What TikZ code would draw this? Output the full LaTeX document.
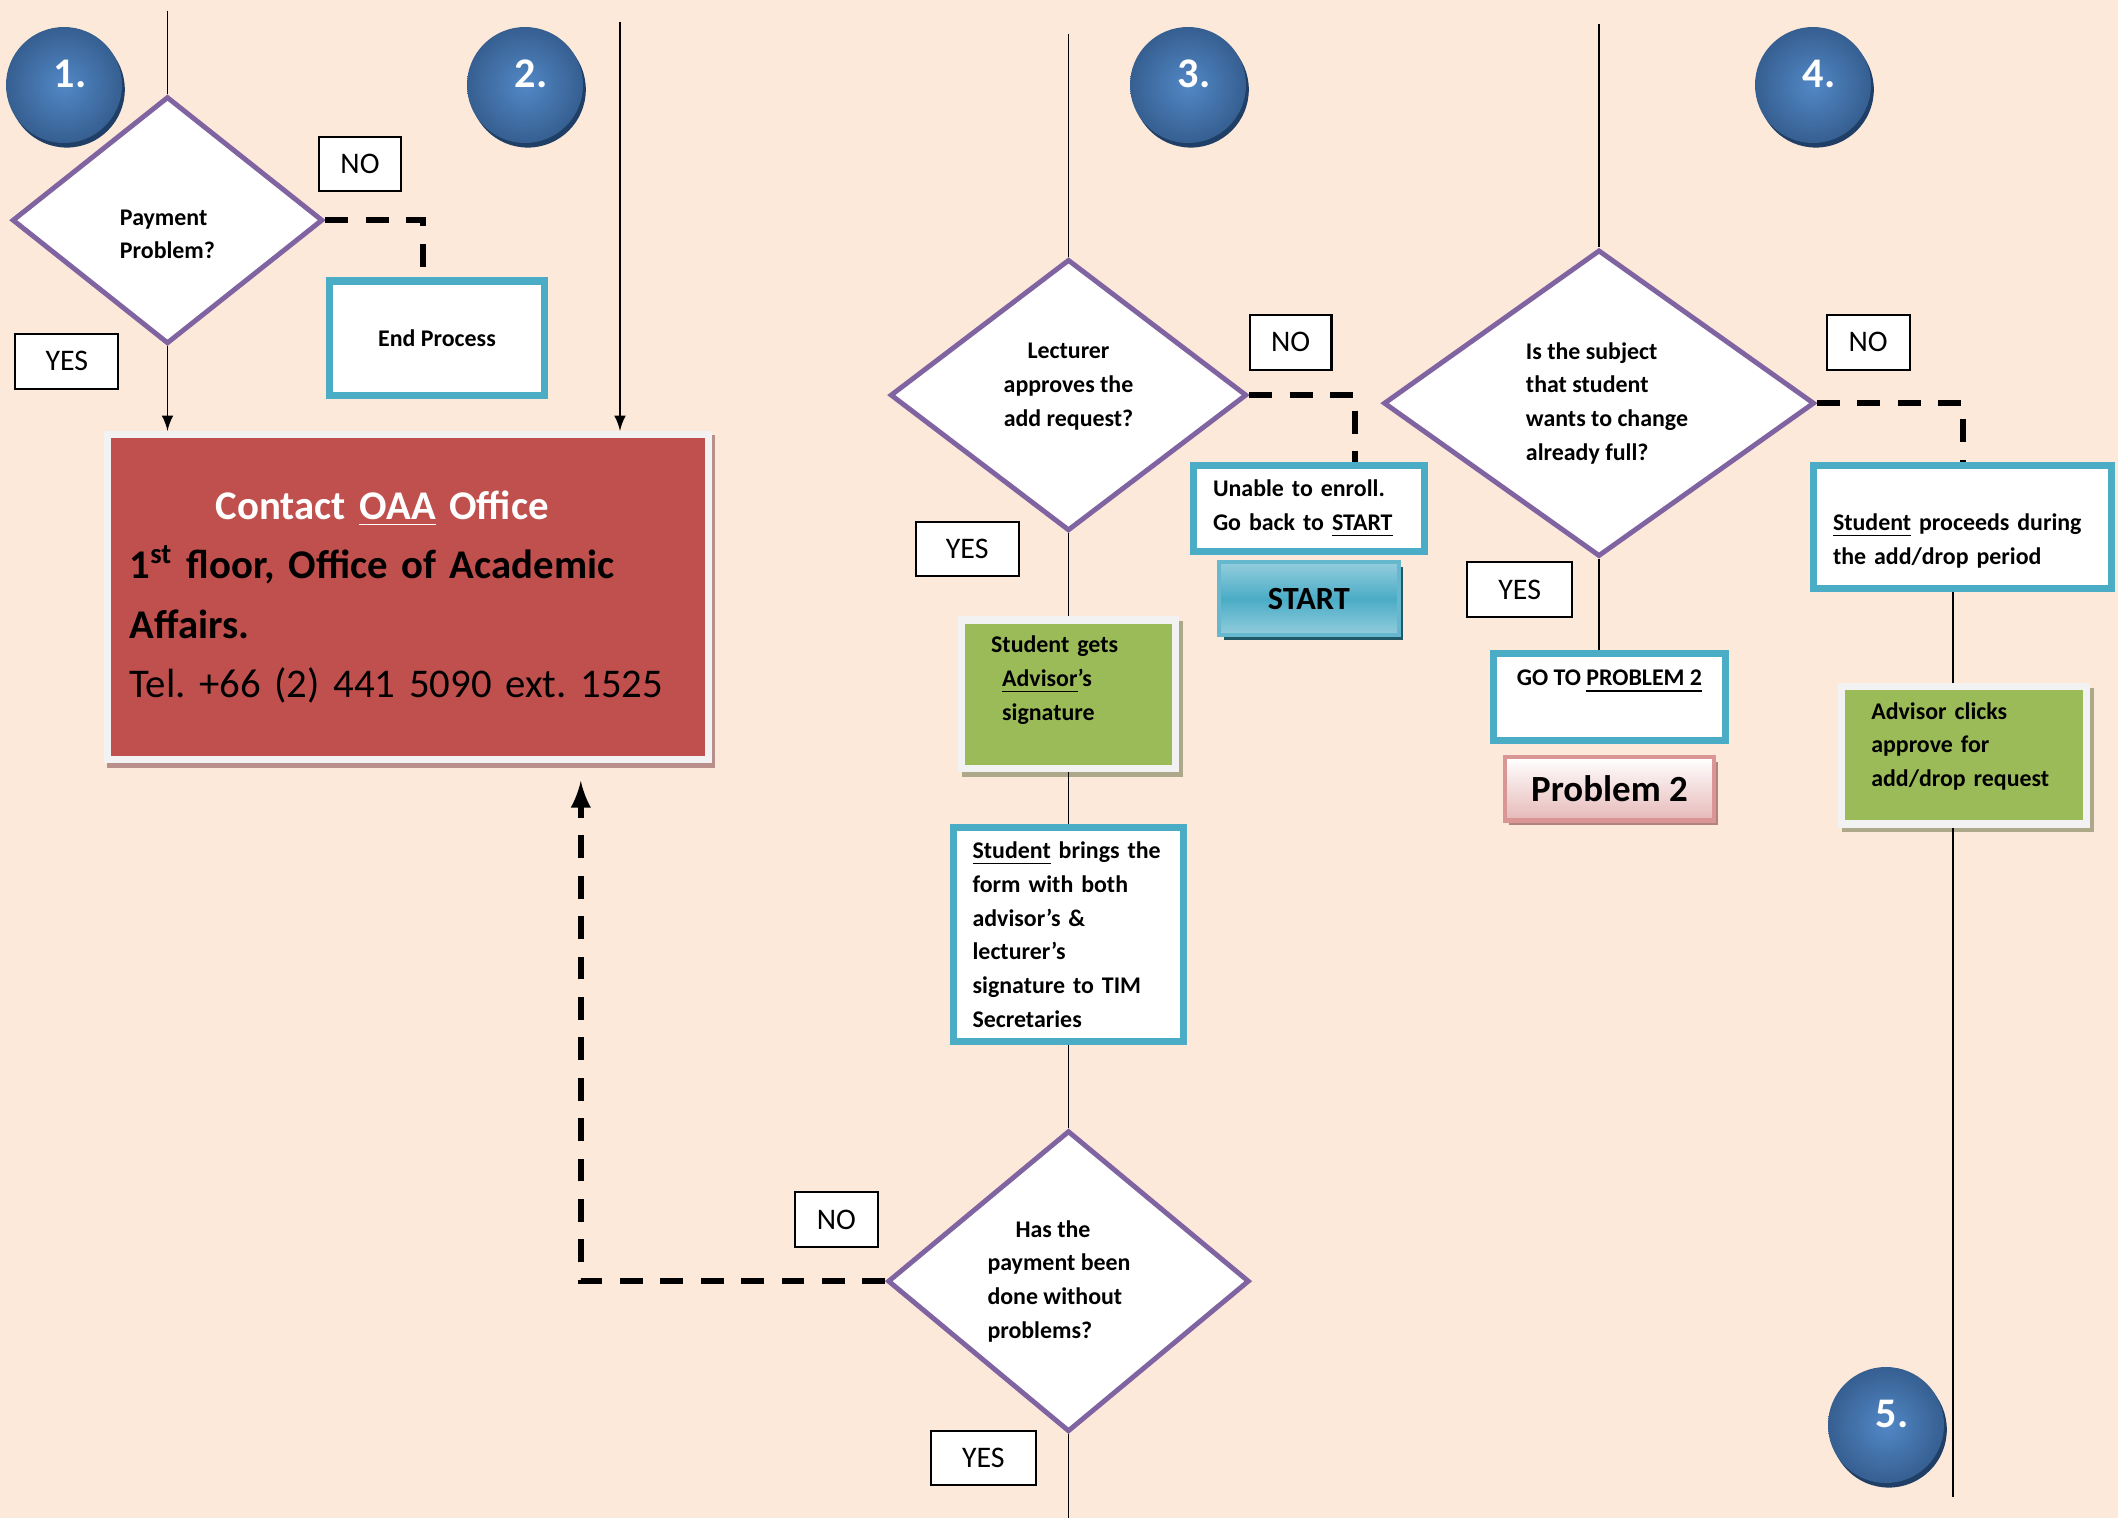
\documentclass[tikz,border=0pt]{standalone}
\usepackage{fontspec}
\setmainfont{Carlito}
\frenchspacing
\usetikzlibrary{shapes.geometric, arrows, positioning, shadows}
\definecolor{mpeach}{HTML}{FCE9DA}
\definecolor{mpurp}{HTML}{8064A2}
\definecolor{mcyan}{HTML}{4BACC6}
\definecolor{mred}{HTML}{C0504D}
\definecolor{mgreen}{HTML}{9BBB59}
\definecolor{mrim}{HTML}{F2F2F2}
\definecolor{mtan}{HTML}{AEA88A}
\definecolor{mrose}{HTML}{B98F8C}
\definecolor{mballin}{HTML}{5288C6}
\definecolor{mballout}{HTML}{365F91}
\definecolor{mballsh}{HTML}{203F66}
\definecolor{mstart}{HTML}{93CDDD}
\definecolor{mstartsh}{HTML}{215968}
\definecolor{mpink}{HTML}{E6B9B8}
\definecolor{mpinkline}{HTML}{D99694}
\definecolor{mpinksh}{HTML}{B3837E}
\newcommand{\boxtext}{\fontsize{6.8pt}{9.6pt}\selectfont\bfseries}
\newcommand{\ballnum}[1]{\hspace*{0.12cm}\raisebox{0.22cm}{#1}}
\tikzstyle{decision} = [diamond, draw=mpurp, line width=1.4pt, fill=white, inner sep=0pt, font=\boxtext]
\tikzstyle{process} = [rectangle, draw=mcyan, line width=2pt, fill=white, font=\boxtext]
\tikzstyle{task} = [rectangle, draw=mrim, line width=2pt, fill=mgreen, font=\boxtext, align=left, general shadow={fill=mtan, draw=mtan, line width=2pt, shadow xshift=1.2pt, shadow yshift=-1.4pt}]
\tikzstyle{contact} = [rectangle, draw=mrim, line width=2pt, fill=mred, align=left, font=\fontsize{11.6pt}{16.9pt}\selectfont\bfseries, general shadow={fill=mrose, draw=mrose, line width=2pt, shadow xshift=0.8pt, shadow yshift=-1.2pt}]
\tikzstyle{answer} = [rectangle, draw=black, line width=0.6pt, fill=white, minimum height=0.545cm, font=\fontsize{8.5pt}{10pt}\selectfont]
\tikzstyle{ball} = [circle, minimum size=1.16cm, inner color=mballin, outer color=mballout, text=white, font=\fontsize{12pt}{14pt}\selectfont\bfseries, general shadow={fill=mballsh, shadow xshift=0.8pt, shadow yshift=-1.3pt}]
\tikzstyle{button} = [rectangle, draw=mcyan!85!white, line width=1.2pt, top color=mstart, bottom color=mstart, middle color=mcyan, minimum width=1.797cm, minimum height=0.729cm, font=\fontsize{9.2pt}{11pt}\selectfont\bfseries, general shadow={fill=mstartsh, shadow xshift=1.3pt, shadow yshift=-1.3pt}]
\tikzstyle{gopage} = [rectangle, draw=mpinkline, line width=1.2pt, top color=white, bottom color=mpink, minimum width=2.088cm, minimum height=0.632cm, font=\fontsize{10.5pt}{12pt}\selectfont\bfseries, general shadow={fill=mpinksh, shadow xshift=1.2pt, shadow yshift=-1.2pt}]
\tikzstyle{link} = [line width=0.5pt]
\tikzstyle{noline} = [line width=1.6pt, dash pattern=on 6.5pt off 5pt]

\begin{document}
\begin{tikzpicture}
  \fill[mpeach] (0,0) rectangle (21.18,-15.18);
  \useasboundingbox (0,0) rectangle (21.18,-15.18);

  % step numbers
  \node (n1) [ball] at (0.64,-0.85) {\ballnum{1.}};
  \node (n2) [ball] at (5.25,-0.85) {\ballnum{2.}};
  \node (n3) [ball] at (11.88,-0.85) {\ballnum{3.}};
  \node (n4) [ball] at (18.13,-0.85) {\ballnum{4.}};
  \node (n5) [ball] at (18.86,-14.25) {\ballnum{5.}};

  % 1. and 2.
  \coordinate (top1) at (1.675,-0.108);
  \coordinate (top2) at (6.200,-0.216);
  \node (pay) [decision, minimum width=3.107cm, minimum height=2.472cm, align=left] at (1.675,-2.202) {\rule{0pt}{0.44cm}Payment\\Problem?};
  \node (payno) [answer, minimum width=0.815cm] at (3.600,-1.641) {NO};
  \node (payyes) [answer, minimum width=1.03cm] at (0.669,-3.613) {YES};
  \node (endp) [process, minimum width=2.148cm, minimum height=1.148cm] at (4.370,-3.384) {End Process};
  \node (oaa) [contact, minimum width=6.011cm, minimum height=3.255cm, text width=5.565cm] at (4.079,-5.971)
    {{\color{white}\hspace*{0.86cm}Contact \underline{OAA} Office}\\
     1\textsuperscript{st} floor, Office of Academic\\
     Affairs.\\
     \mbox{\mdseries Tel. +66 (2) 441 5090 ext. 1525}};
  \draw [link] (top1) -- (pay);
  \draw [link, ->, >=latex] (pay) -- (pay.south |- oaa.north);
  \draw [noline] (pay.east) -| ([xshift=-0.14cm]endp.north);
  \draw [link, ->, >=latex] (top2) -- (top2 |- oaa.north);

  % 3.
  \coordinate (top3) at (10.685,-0.338);
  \coordinate (end3) at (10.685,-15.18);
  \node (lect) [decision, minimum width=3.566cm, minimum height=2.715cm, align=center] at (10.685,-3.951) {Lecturer\\approves the\\add request?\rule[-0.21cm]{0pt}{0pt}};
  \node (lectno) [answer, minimum width=0.815cm] at (12.907,-3.424) {NO};
  \node (lectyes) [answer, minimum width=1.03cm] at (9.672,-5.491) {YES};
  \node (unable) [process, minimum width=2.307cm, minimum height=0.862cm, text width=1.918cm, align=left] at (13.089,-5.086) {Unable to enroll.\\Go back to \underline{START}};
  \node (start) [button, below=0.05cm of unable] {START};
  \node (advsig) [task, minimum width=2.141cm, minimum height=1.486cm, text width=1.547cm] at (10.685,-6.943)
    {Student gets\\\hspace*{0.11cm}\underline{Advisor}’s\\\hspace*{0.11cm}signature\rule[-0.32cm]{0pt}{0pt}};
  \node (bring) [process, minimum width=2.307cm, minimum height=2.145cm, text width=1.918cm, align=left] at (10.685,-9.347)
    {\underline{Student} brings the\\form with both\\advisor’s \&\\lecturer’s\\signature to TIM\\Secretaries};
  \node (paid) [decision, minimum width=3.616cm, minimum height=3.011cm, align=left] at (10.685,-12.812)
    {\hspace*{0.28cm}Has the\\payment been\rule{0.19cm}{0pt}\\done without\\problems?};
  \node (paidno) [answer, minimum width=0.83cm] at (8.364,-12.194) {NO};
  \node (paidyes) [answer, minimum width=1.05cm] at (9.834,-14.579) {YES};
  \coordinate (back) at (5.808,-7.808);
  \draw [link] (top3) -- (lect);
  \draw [link] (lect) -- (advsig);
  \draw [link] (advsig) -- (bring);
  \draw [link] (bring) -- (paid);
  \draw [link] (paid) -- (end3);
  \draw [noline] (lect.east) -| ([xshift=0.46cm]unable.north);
  \draw [noline, ->, >=latex] (paid.west) -| (back);

  % 4.
  \coordinate (top4) at (15.99,-0.243);
  \coordinate (end4) at (19.533,-14.967);
  \node (full) [decision, minimum width=4.309cm, minimum height=3.066cm, align=left] at (15.99,-4.032)
    {\hspace*{0.16cm}Is the subject\\\hspace*{0.16cm}that student\\\hspace*{0.16cm}wants to change\\\hspace*{0.16cm}already full?};
  \node (fullno) [answer, minimum width=0.83cm] at (18.682,-3.424) {NO};
  \node (fullyes) [answer, minimum width=1.05cm] at (15.197,-5.896) {YES};
  \node (goto) [process, minimum width=2.321cm, minimum height=0.875cm, align=center] at (16.095,-6.970)
    {GO TO \underline{PROBLEM 2}\rule[-0.38cm]{0pt}{0pt}};
  \node (prob2) [gopage, below=0.11cm of goto] {Problem 2};
  \node (proceed) [process, minimum width=2.983cm, minimum height=1.227cm, text width=2.594cm, align=left] at (19.627,-5.268)
    {\rule{0pt}{0.45cm}\underline{Student} proceeds during\\the add/drop period};
  \node (advok) [task, minimum width=2.452cm, minimum height=1.378cm, text width=1.85cm] at (19.638,-7.551)
    {Advisor clicks\\approve for\\add/drop request\rule[-0.21cm]{0pt}{0pt}};
  \draw [link] (top4) -- (full);
  \draw [link] (full) -- (full.south |- goto.north);
  \draw [noline] (full.east) -| (proceed.north);
  \draw [link] ([xshift=-0.1cm]proceed.south) -- ([xshift=-0.1cm]proceed.south |- advok.north);
  \draw [link] (end4 |- advok.south) -- (end4);
\end{tikzpicture}
\end{document}
